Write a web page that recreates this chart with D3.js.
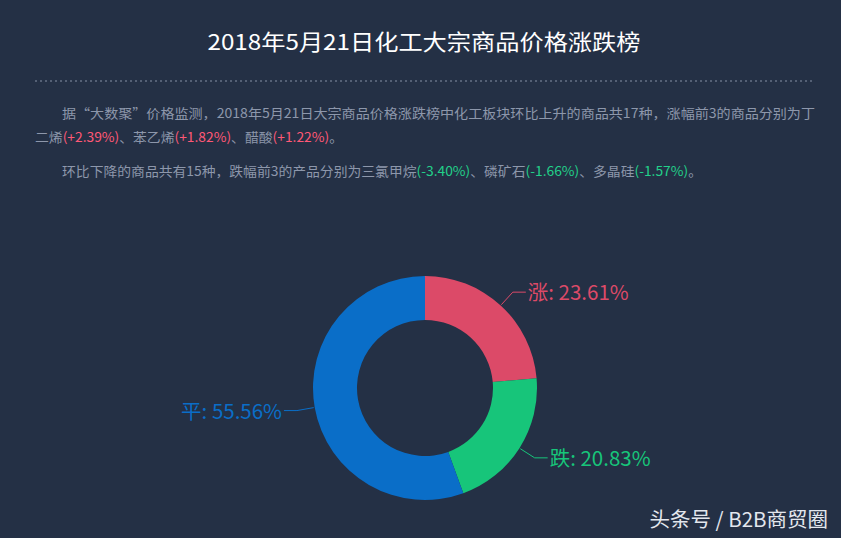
<!DOCTYPE html>
<html><head><meta charset="utf-8">
<script src="https://cdn.jsdelivr.net/npm/d3@7"></script>
<style>
html,body{margin:0;padding:0;background:#243045;}
svg{display:block;}
</style></head>
<body>
<svg id="c" width="841" height="538"></svg>
<script>
const title = "2018年5月21日化工大宗商品价格涨跌榜";
const categories = ["涨", "跌", "平"];
const counts = [17, 15, 40];
const colors = ["#dc4a68", "#17c57a", "#0a6ec8"];
const para1a = [["据“大数聚”价格监测，2018年5月21日大宗商品价格涨跌榜中化工板块环比上升的商品共17种，涨幅前3的商品分别为丁", "n"]];
const para1b = [["二烯", "n"], ["(+2.39%)", "r"], ["、苯乙烯", "n"], ["(+1.82%)", "r"], ["、醋酸", "n"], ["(+1.22%)", "r"], ["。", "n"]];
const para2 = [["环比下降的商品共有15种，跌幅前3的产品分别为三氯甲烷", "n"], ["(-3.40%)", "g"], ["、磷矿石", "n"], ["(-1.66%)", "g"], ["、多晶硅", "n"], ["(-1.57%)", "g"], ["。", "n"]];
const watermark = "头条号 / B2B商贸圈";

const svg = d3.select("#c");
const font = "'Noto Sans CJK SC','Noto Sans',sans-serif";
svg.append("rect").attr("width", 841).attr("height", 538).attr("fill", "#243045");

svg.append("text").attr("x", 424).attr("y", 50).attr("text-anchor", "middle")
  .attr("font-family", font).attr("font-size", 22).attr("fill", "#ffffff")
  .attr("textLength", 433).attr("lengthAdjust", "spacingAndGlyphs").text(title);

svg.append("line").attr("x1", 35).attr("x2", 814).attr("y1", 81).attr("y2", 81)
  .attr("stroke", "#8590a6").attr("stroke-width", 1).attr("stroke-dasharray", "2,3");

const tcol = {n: "#8d97ab", r: "#ff5876", g: "#22d18a"};
function para(parts, x, y, len) {
  const t = svg.append("text").attr("x", x).attr("y", y).attr("font-family", font)
    .attr("font-size", 13).attr("textLength", len).attr("lengthAdjust", "spacingAndGlyphs");
  parts.forEach(p => t.append("tspan").attr("fill", tcol[p[1]]).text(p[0]));
}
para(para1a, 62, 118, 753);
para(para1b, 35, 142, 308);
para(para2, 62, 176, 640);

const cx = 425, cy = 388, R = 112, r = 68;
const g = svg.append("g").attr("transform", `translate(${cx},${cy})`);
const total = d3.sum(counts);
const data = categories.map((c, i) => ({name: c, value: counts[i], color: colors[i]}));
const pie = d3.pie().value(d => d.value).sort(null);
const arcs = pie(data);
const arc = d3.arc().innerRadius(r).outerRadius(R);
g.selectAll("path.s").data(arcs).join("path").attr("class", "s")
  .attr("d", arc).attr("fill", d => d.data.color);

arcs.forEach(a => {
  const m = (a.startAngle + a.endAngle) / 2;
  const p0 = [Math.sin(m) * (R + 1), -Math.cos(m) * (R + 1)];
  const p1 = [Math.sin(m) * (R + 18), -Math.cos(m) * (R + 18)];
  const right = Math.sin(m) >= 0;
  const p2 = [p1[0] + (right ? 13 : -13), p1[1]];
  g.append("polyline").attr("points", [p0, p1, p2].map(p => p.join(",")).join(" "))
    .attr("fill", "none").attr("stroke", a.data.color).attr("stroke-width", 1);
  const pct = (a.data.value / total * 100).toFixed(2) + "%";
  g.append("text").attr("x", p2[0] + (right ? 2 : -2)).attr("y", p2[1] + 8)
    .attr("text-anchor", right ? "start" : "end")
    .attr("font-family", font).attr("font-size", 20.5).attr("fill", a.data.color)
    .text(a.data.name + ": " + pct);
});

svg.append("text").attr("x", 828).attr("y", 527).attr("text-anchor", "end")
  .attr("font-family", font).attr("font-size", 20.5).attr("fill", "#e3e7ee").text(watermark);
</script>
</body></html>
